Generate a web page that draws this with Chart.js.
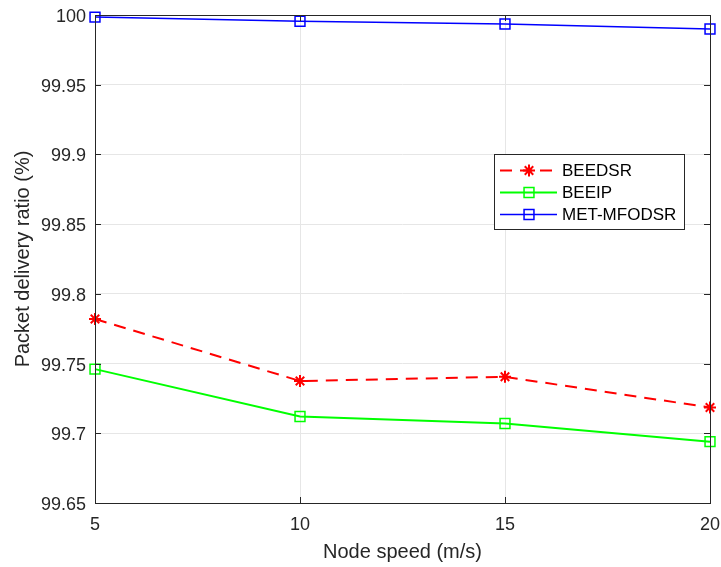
<!DOCTYPE html>
<html>
<head>
<meta charset="utf-8">
<script src="https://cdn.jsdelivr.net/npm/chart.js@4"></script>
<style>
  html, body { margin: 0; padding: 0; background: #fff; }
  #wrap { width: 721px; height: 567px; }
</style>
</head>
<body>
<div id="wrap"><canvas id="pdrChart" width="721" height="567"></canvas></div>
<script>
const nodeSpeeds = [5, 10, 15, 20];
const beedsr = [99.782, 99.7375, 99.7405, 99.7185];
const beeip = [99.746, 99.712, 99.707, 99.694];
const metMfodsr = [99.9985, 99.9955, 99.9935, 99.9900];
const yTicks = [99.65, 99.7, 99.75, 99.8, 99.85, 99.9, 99.95, 100];

const FONT = '"Liberation Sans", Arial, sans-serif';
const TEXT = '#262626';

function toPoints(values) {
    return nodeSpeeds.map((x, i) => ({ x: x, y: values[i] }));
}

// box round the plot, inward ticks and the legend drawn MATLAB-style
const framePlugin = {
    id: 'frame',
    afterDatasetsDraw(chart) {
        const { ctx, chartArea: a, scales } = chart;
        ctx.save();
        ctx.strokeStyle = '#262626';
        ctx.lineWidth = 1;
        ctx.beginPath();
        yTicks.forEach(v => {
            const y = Math.round(scales.y.getPixelForValue(v)) + 0.5;
            ctx.moveTo(a.left, y); ctx.lineTo(a.left + 6, y);
            ctx.moveTo(a.right, y); ctx.lineTo(a.right - 6, y);
        });
        nodeSpeeds.forEach(v => {
            const x = Math.round(scales.x.getPixelForValue(v)) + 0.5;
            ctx.moveTo(x, a.bottom); ctx.lineTo(x, a.bottom - 6);
            ctx.moveTo(x, a.top); ctx.lineTo(x, a.top + 6);
        });
        ctx.stroke();
        ctx.strokeRect(Math.round(a.left) + 0.5, Math.round(a.top) + 0.5,
            Math.round(a.right - a.left), Math.round(a.bottom - a.top));

        // legend
        const lx = 494, ly = 154, lw = 190, lh = 75;
        ctx.fillStyle = '#fff';
        ctx.fillRect(lx, ly, lw, lh);
        ctx.strokeStyle = '#262626';
        ctx.strokeRect(lx + 0.5, ly + 0.5, lw, lh);
        ctx.font = '17px ' + FONT;
        ctx.textBaseline = 'middle';
        chart.data.datasets.forEach((ds, i) => {
            const y = ly + 16.5 + i * 22;
            ctx.strokeStyle = ds.borderColor;
            ctx.lineWidth = ds.borderWidth;
            ctx.setLineDash(ds.borderDash || []);
            ctx.beginPath();
            ctx.moveTo(lx + 6, y); ctx.lineTo(lx + 63, y);
            ctx.stroke();
            ctx.setLineDash([]);
            ctx.fillStyle = 'rgba(0,0,0,0)';
            ctx.lineWidth = ds.pointBorderWidth;
            Chart.helpers.drawPoint(ctx, {
                pointStyle: ds.pointStyle, radius: ds.pointRadius,
                borderWidth: ds.pointBorderWidth, rotation: 0
            }, lx + 35, y);
            ctx.fillStyle = '#000';
            ctx.fillText(ds.label, lx + 68, y + 1);
        });
        ctx.restore();
    }
};

new Chart(document.getElementById('pdrChart'), {
    type: 'line',
    data: {
        datasets: [
            {
                label: 'BEEDSR',
                data: toPoints(beedsr),
                borderColor: '#ff0000',
                backgroundColor: '#ff0000',
                borderWidth: 2,
                borderDash: [12, 8],
                pointStyle: 'star',
                pointRadius: 6,
                pointBorderWidth: 2,
            },
            {
                label: 'BEEIP',
                data: toPoints(beeip),
                borderColor: '#00ff00',
                backgroundColor: 'rgba(0,0,0,0)',
                borderWidth: 2,
                pointStyle: 'rect',
                pointRadius: 7,
                pointBorderWidth: 1.5,
            },
            {
                label: 'MET-MFODSR',
                data: toPoints(metMfodsr),
                borderColor: '#0000ff',
                backgroundColor: 'rgba(0,0,0,0)',
                borderWidth: 1.5,
                pointStyle: 'rect',
                pointRadius: 7,
                pointBorderWidth: 1.5,
            },
        ],
    },
    options: {
        responsive: false,
        animation: false,
        layout: { padding: { top: 15, right: 11, left: 0, bottom: 0 } },
        plugins: {
            legend: { display: false },
            tooltip: { enabled: false },
        },
        elements: { line: { tension: 0, fill: false } },
        datasets: { line: { clip: false } },
        scales: {
            x: {
                type: 'linear',
                min: 5,
                max: 20,
                afterFit(scale) {
                    scale.height = 64;
                    scale.paddingLeft = 0;
                    scale.paddingRight = 0;
                },
                afterBuildTicks(scale) { scale.ticks = nodeSpeeds.map(v => ({ value: v })); },
                grid: { color: '#e6e6e6', drawTicks: false },
                border: { display: false },
                ticks: {
                    padding: 11,
                    color: TEXT,
                    font: { family: FONT, size: 18 },
                    maxRotation: 0,
                },
                title: {
                    display: true,
                    text: 'Node speed (m/s)',
                    color: TEXT,
                    font: { family: FONT, size: 20 },
                    padding: { top: 0, bottom: 3 },
                },
            },
            y: {
                type: 'linear',
                min: 99.65,
                max: 100,
                afterFit(scale) {
                    scale.width = 95;
                    scale.paddingTop = 0;
                    scale.paddingBottom = 0;
                },
                afterBuildTicks(scale) { scale.ticks = yTicks.map(v => ({ value: v })); },
                grid: { color: '#e6e6e6', drawTicks: false },
                border: { display: false },
                ticks: {
                    padding: 9,
                    labelOffset: 2,
                    color: TEXT,
                    font: { family: FONT, size: 18 },
                    callback: v => String(Math.round(v * 100) / 100),
                },
                title: {
                    display: true,
                    text: 'Packet delivery ratio (%)',
                    color: TEXT,
                    font: { family: FONT, size: 20 },
                    padding: { top: 11, bottom: 0 },
                },
            },
        },
    },
    plugins: [framePlugin],
});
</script>
</body>
</html>
